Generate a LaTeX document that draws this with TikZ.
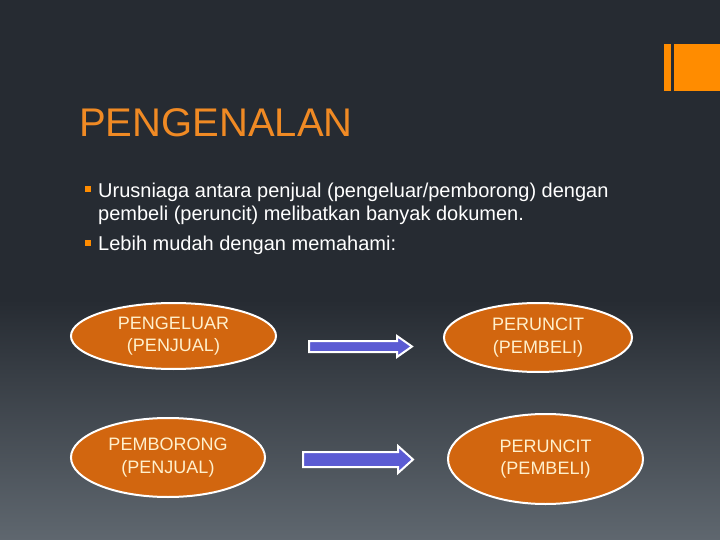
\documentclass[tikz,border=0pt]{standalone}
\usepackage{fontspec}
\setmainfont{Liberation Sans}
\definecolor{bgtop}{HTML}{262B32}
\definecolor{bgbot}{HTML}{5F676F}
\definecolor{accent}{HTML}{FF8C00}
\definecolor{titleor}{HTML}{F08A24}
\definecolor{ellfill}{HTML}{D2660F}
\definecolor{elltext}{HTML}{FFF0CC}
\definecolor{arrfill}{HTML}{5B5BD3}
\tikzset{
  oval/.style={ellipse, draw=white, line width=2pt, fill=ellfill, text=elltext,
    font=\fontsize{18}{22.5}\selectfont, align=center, inner sep=0pt},
  blockarrow/.style={draw=white, line width=2pt, fill=arrfill, line join=miter},
  bulletsq/.style={fill=accent, minimum size=6pt, inner sep=0pt},
  bullettext/.style={anchor=base west, text=white, font=\fontsize{20}{23}\selectfont, inner sep=0pt}
}
\usetikzlibrary{shapes.geometric}
\begin{document}
\begin{tikzpicture}[x=1pt,y=-1pt]
\useasboundingbox (0,0) rectangle (720,540);
\fill[bgtop] (0,0) rectangle (720,300);
\shade[top color=bgtop, bottom color=bgbot] (0,299.5) rectangle (720,540);
% corner bars
\fill[accent] (664,44) rectangle (671,91);
\fill[accent] (674,44) rectangle (720,91);
% title
\node[anchor=base west, inner sep=0pt, text=titleor, font=\fontsize{40}{48}\selectfont] (title) at (79,137) {PENGENALAN};
% bullets
\node[bulletsq] (b1) at (88,189) {};
\node[bullettext] (t1) at (98,197) {Urusniaga antara penjual (pengeluar/pemborong) dengan};
\node[bullettext] (t2) at (98,221) {pembeli (peruncit) melibatkan banyak dokumen.};
\node[bulletsq] (b2) at (88,243) {};
\node[bullettext] (t3) at (98,251) {Lebih mudah dengan memahami:};
% ellipses
\node[oval, minimum width=205pt, minimum height=66pt] (e1) at (173.5,336) {PENGELUAR\\(PENJUAL)};
\node[oval, minimum width=188pt, minimum height=69pt] (e2) at (538,337.5) {PERUNCIT\\(PEMBELI)};
\node[oval, minimum width=194pt, minimum height=79pt] (e3) at (168,457.5) {PEMBORONG\\(PENJUAL)};
\node[oval, minimum width=195pt, minimum height=90pt] (e4) at (545.5,459) {PERUNCIT\\(PEMBELI)};
% block arrows
\draw[blockarrow] (309,341) -- (397,341) -- (397,336) -- (412,346.5) -- (397,357) -- (397,352) -- (309,352) -- cycle;
\draw[blockarrow] (303,452) -- (398,452) -- (398,446) -- (413,459.5) -- (398,473) -- (398,467) -- (303,467) -- cycle;
\end{tikzpicture}
\end{document}
